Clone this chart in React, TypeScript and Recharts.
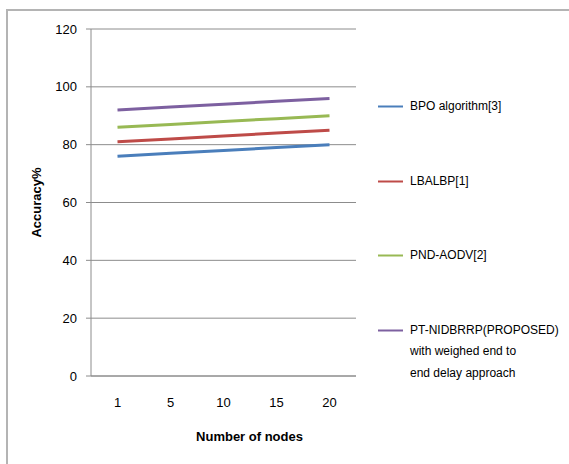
import React from "react"
import { LineChart, Line, CartesianGrid, XAxis, YAxis, Legend } from "recharts"

const nodes = ["1", "5", "10", "15", "20"]
const bpo = [76, 77, 78, 79, 80]
const lbalbp = [81, 82, 83, 84, 85]
const pndAodv = [86, 87, 88, 89, 90]
const ptNidbrrp = [92, 93, 94, 95, 96]
const yTicks = [0, 20, 40, 60, 80, 100, 120]

const seriesNames = [
  "BPO algorithm[3]",
  "LBALBP[1]",
  "PND-AODV[2]",
  "PT-NIDBRRP(PROPOSED)\nwith weighed end to\nend delay approach",
]
const seriesColors = ["#4a7ebb", "#be4b48", "#98b954", "#7d60a0"]

const data = nodes.map((n, i) => ({
  name: n,
  s0: bpo[i],
  s1: lbalbp[i],
  s2: pndAodv[i],
  s3: ptNidbrrp[i],
}))

const font = "'Liberation Sans', Arial, sans-serif"

function LegendBox(props: any) {
  const items = props.payload || []
  return (
    <div style={{ fontFamily: font, fontSize: 12, color: "#000" }}>
      {items.map((it: any, i: number) => (
        <div key={i} style={{ display: "flex", alignItems: "flex-start", marginBottom: 53 }}>
          <svg width={32} height={21} style={{ flex: "none" }}>
            <line x1={0} y1={10.5} x2={25} y2={10.5} stroke={it.color} strokeWidth={2} />
          </svg>
          <span style={{ whiteSpace: "pre-line", lineHeight: "21.5px" }}>{it.value}</span>
        </div>
      ))}
    </div>
  )
}

export default function App() {
  return (
    <div style={{ position: "absolute", left: 0, top: 0, width: 569, height: 464, background: "#fff" }}>
      <div
        style={{
          position: "absolute",
          left: 6,
          top: 9,
          right: 0,
          bottom: 0,
          borderTop: "2px solid #b4b4b4",
          borderLeft: "2px solid #b4b4b4",
        }}
      />
      <LineChart
        width={569}
        height={464}
        data={data}
        margin={{ top: 29, right: 23, bottom: 48, left: 0 }}
        style={{ fontFamily: font, position: "absolute", left: 0, top: 0 }}
      >
        <CartesianGrid vertical={false} stroke="#8c8c8c" />
        <XAxis
          dataKey="name"
          height={40}
          padding={{ left: 26.5, right: 26.5 }}
          tickLine={false}
          tickSize={0}
          tickMargin={22}
          axisLine={{ stroke: "#8c8c8c" }}
          tick={{ fill: "#000", fontSize: 13 }}
          label={{ value: "Number of nodes", position: "bottom", offset: 16, dx: 26, fill: "#000", fontSize: 13, fontWeight: "bold" }}
        />
        <YAxis
          width={91}
          domain={[0, 120]}
          ticks={yTicks}
          tickSize={5}
          tickMargin={9}
          axisLine={{ stroke: "#8c8c8c" }}
          tickLine={{ stroke: "#8c8c8c" }}
          tick={{ fill: "#000", fontSize: 13 }}
          label={{ value: "Accuracy%", angle: -90, position: "insideLeft", offset: 36, textAnchor: "middle", fill: "#000", fontSize: 13, fontWeight: "bold" }}
        />
        <Legend
          layout="horizontal"
          verticalAlign="middle"
          align="right"
          content={<LegendBox />}
          wrapperStyle={{ left: 378, top: 96, width: 190 }}
        />
        {seriesNames.map((n, i) => (
          <Line
            key={n}
            dataKey={"s" + i}
            name={n}
            stroke={seriesColors[i]}
            strokeWidth={3}
            dot={false}
            type="linear"
            isAnimationActive={false}
          />
        ))}
      </LineChart>
    </div>
  )
}
